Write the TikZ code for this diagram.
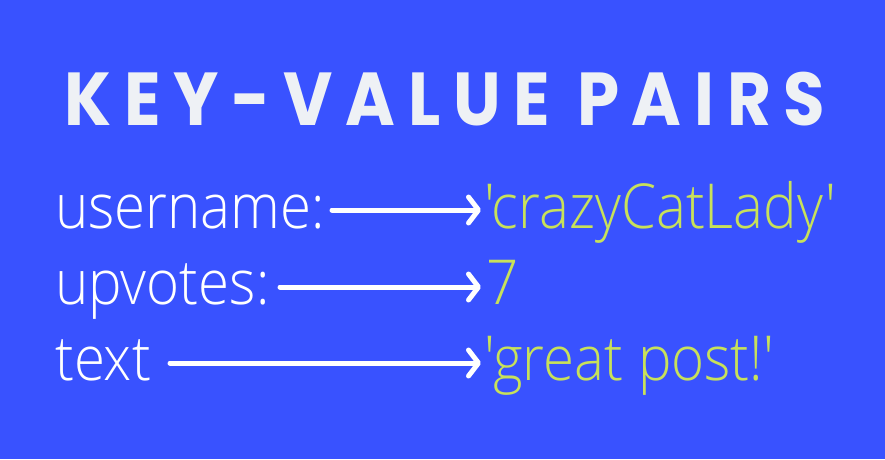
\documentclass[tikz,border=0pt]{standalone}
\usepackage{fontspec}
\usetikzlibrary{arrows.meta}
\newfontfamily\titlefont{Poppins}[LetterSpace=17,FakeStretch=0.9]
\newfontfamily\bodyfont{Open Sans Light}[FakeStretch=0.91]
\definecolor{bgblue}{RGB}{57,82,255}
\definecolor{offwhite}{RGB}{238,241,245}
\definecolor{limegreen}{RGB}{200,225,90}
\begin{document}
\begin{tikzpicture}[x=1pt,y=-1pt,
  title/.style={inner sep=0pt, text=offwhite, font=\titlefont\bfseries\fontsize{75}{80}\selectfont},
  keytext/.style={inner sep=0pt, anchor=base west, text=white, font=\bodyfont\fontsize{62}{68}\selectfont},
  valtext/.style={inner sep=0pt, anchor=base west, text=limegreen, font=\bodyfont\fontsize{62}{68}\selectfont},
  conn/.style={draw=white, line width=5pt, line cap=round, -{Straight Barb[length=10pt, width=26pt, line cap=round, line join=round]}}]
\fill[bgblue] (0,0) rectangle (885,459);
\useasboundingbox (0,0) rectangle (885,459);
\node[title, anchor=base] (t) at (445,125) {KEY-VALUE PAIRS};
\node[keytext] (k1) at (55,228) {username:};
\node[keytext] (k2) at (55,304) {upvotes:};
\node[keytext] (k3) at (55,380) {text};
\node[valtext] (v1) at (484,228) {'crazyCatLady'};
\node[valtext] (v2) at (486,304) {7};
\node[valtext] (v3) at (484,380) {'great post!'};
\coordinate (a1s) at (332,210); \coordinate (a1e) at (481,210);
\coordinate (a2s) at (280,287); \coordinate (a2e) at (481,287);
\coordinate (a3s) at (170,363); \coordinate (a3e) at (481,363);
\draw[conn] (a1s) -- (a1e);
\draw[conn] (a2s) -- (a2e);
\draw[conn] (a3s) -- (a3e);
\end{tikzpicture}
\end{document}
